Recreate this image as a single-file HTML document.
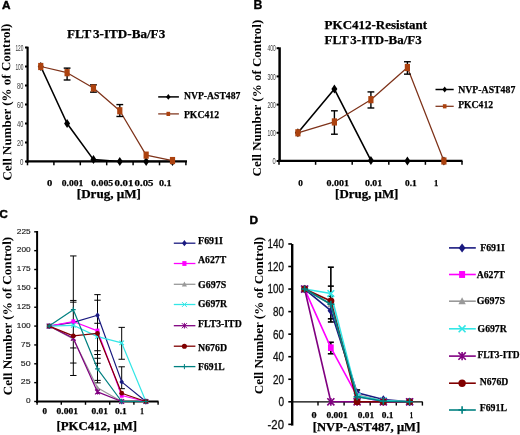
<!DOCTYPE html>
<html><head><meta charset="utf-8"><style>
html,body{margin:0;padding:0;background:#fff;overflow:hidden;}
svg{display:block;will-change:transform;}
</style></head><body>
<svg width="520" height="435" viewBox="0 0 520 435">
<rect width="520" height="435" fill="#fff"/>
<line x1="27.60" y1="46.70" x2="27.60" y2="162.60" stroke="#000" stroke-width="2.2"/>
<line x1="26.50" y1="161.40" x2="187.00" y2="161.40" stroke="#000" stroke-width="2.4"/>
<line x1="25.00" y1="161.50" x2="27.50" y2="161.50" stroke="#000" stroke-width="2.0"/>
<text x="23.40" y="164.60" font-family="'Liberation Sans', sans-serif" font-size="8.6" font-weight="normal" fill="#3a3a3a" text-anchor="end" textLength="3.40" lengthAdjust="spacingAndGlyphs" >0</text>
<line x1="25.00" y1="142.50" x2="27.50" y2="142.50" stroke="#000" stroke-width="2.0"/>
<text x="23.40" y="145.60" font-family="'Liberation Sans', sans-serif" font-size="8.6" font-weight="normal" fill="#3a3a3a" text-anchor="end" textLength="6.30" lengthAdjust="spacingAndGlyphs" >20</text>
<line x1="25.00" y1="123.50" x2="27.50" y2="123.50" stroke="#000" stroke-width="2.0"/>
<text x="23.40" y="126.60" font-family="'Liberation Sans', sans-serif" font-size="8.6" font-weight="normal" fill="#3a3a3a" text-anchor="end" textLength="6.30" lengthAdjust="spacingAndGlyphs" >40</text>
<line x1="25.00" y1="104.50" x2="27.50" y2="104.50" stroke="#000" stroke-width="2.0"/>
<text x="23.40" y="107.60" font-family="'Liberation Sans', sans-serif" font-size="8.6" font-weight="normal" fill="#3a3a3a" text-anchor="end" textLength="6.30" lengthAdjust="spacingAndGlyphs" >60</text>
<line x1="25.00" y1="85.50" x2="27.50" y2="85.50" stroke="#000" stroke-width="2.0"/>
<text x="23.40" y="88.60" font-family="'Liberation Sans', sans-serif" font-size="8.6" font-weight="normal" fill="#3a3a3a" text-anchor="end" textLength="6.30" lengthAdjust="spacingAndGlyphs" >80</text>
<line x1="25.00" y1="66.50" x2="27.50" y2="66.50" stroke="#000" stroke-width="2.0"/>
<text x="23.40" y="69.60" font-family="'Liberation Sans', sans-serif" font-size="8.6" font-weight="normal" fill="#3a3a3a" text-anchor="end" textLength="8.00" lengthAdjust="spacingAndGlyphs" >100</text>
<line x1="25.00" y1="47.50" x2="27.50" y2="47.50" stroke="#000" stroke-width="2.0"/>
<text x="23.40" y="50.60" font-family="'Liberation Sans', sans-serif" font-size="8.6" font-weight="normal" fill="#3a3a3a" text-anchor="end" textLength="8.00" lengthAdjust="spacingAndGlyphs" >120</text>
<line x1="27.50" y1="161.50" x2="27.50" y2="165.30" stroke="#000" stroke-width="1.5"/>
<line x1="53.90" y1="161.50" x2="53.90" y2="165.30" stroke="#000" stroke-width="1.5"/>
<line x1="80.30" y1="161.50" x2="80.30" y2="165.30" stroke="#000" stroke-width="1.5"/>
<line x1="106.70" y1="161.50" x2="106.70" y2="165.30" stroke="#000" stroke-width="1.5"/>
<line x1="133.10" y1="161.50" x2="133.10" y2="165.30" stroke="#000" stroke-width="1.5"/>
<line x1="159.50" y1="161.50" x2="159.50" y2="165.30" stroke="#000" stroke-width="1.5"/>
<line x1="185.90" y1="161.50" x2="185.90" y2="165.30" stroke="#000" stroke-width="1.5"/>
<text x="47.00" y="185.60" font-family="'Liberation Serif', serif" font-size="8.9" font-weight="bold" fill="#000" text-anchor="start" textLength="5.30" lengthAdjust="spacingAndGlyphs"  stroke="#000" stroke-width="0.25">0</text>
<text x="61.80" y="185.60" font-family="'Liberation Serif', serif" font-size="8.9" font-weight="bold" fill="#000" text-anchor="start" textLength="21.50" lengthAdjust="spacingAndGlyphs"  stroke="#000" stroke-width="0.25">0.001</text>
<text x="91.20" y="185.60" font-family="'Liberation Serif', serif" font-size="8.9" font-weight="bold" fill="#000" text-anchor="start" textLength="22.00" lengthAdjust="spacingAndGlyphs"  stroke="#000" stroke-width="0.25">0.005</text>
<text x="114.50" y="185.60" font-family="'Liberation Serif', serif" font-size="8.9" font-weight="bold" fill="#000" text-anchor="start" textLength="18.90" lengthAdjust="spacingAndGlyphs"  stroke="#000" stroke-width="0.25">0.01</text>
<text x="134.60" y="185.60" font-family="'Liberation Serif', serif" font-size="8.9" font-weight="bold" fill="#000" text-anchor="start" textLength="18.90" lengthAdjust="spacingAndGlyphs"  stroke="#000" stroke-width="0.25">0.05</text>
<text x="158.90" y="185.60" font-family="'Liberation Serif', serif" font-size="8.9" font-weight="bold" fill="#000" text-anchor="start" textLength="12.70" lengthAdjust="spacingAndGlyphs"  stroke="#000" stroke-width="0.25">0.1</text>
<text x="76.80" y="198.20" font-family="'Liberation Serif', serif" font-size="11.5" font-weight="bold" fill="#000" text-anchor="start" textLength="64.10" lengthAdjust="spacingAndGlyphs"  stroke="#000" stroke-width="0.25">[Drug, μM]</text>
<text transform="translate(11.60,180.60) rotate(-90.65)" x="0" y="0" font-family="'Liberation Serif', serif" font-size="12.5" font-weight="bold" fill="#000" textLength="157.00" lengthAdjust="spacingAndGlyphs">Cell Number (% of Control)</text>
<text x="67.00" y="38.20" font-family="'Liberation Serif', serif" font-size="12.0" font-weight="bold" fill="#000" text-anchor="start" textLength="98.20" lengthAdjust="spacingAndGlyphs"  stroke="#000" stroke-width="0.25">FLT<tspan dx="1.6">3</tspan>-ITD-Ba/F3</text>
<text x="2.10" y="8.60" font-family="'Liberation Sans', sans-serif" font-size="11.8" font-weight="bold" fill="#000" text-anchor="start" stroke="#000" stroke-width="0.45">A</text>
<line x1="158.20" y1="96.90" x2="178.90" y2="96.90" stroke="#000" stroke-width="1.5"/>
<path d="M168.30,93.98L170.55,96.90L168.30,99.83L166.05,96.90Z" fill="#000"/>
<text x="183.90" y="98.80" font-family="'Liberation Serif', serif" font-size="10.7" font-weight="bold" fill="#000" text-anchor="start" textLength="56.50" lengthAdjust="spacingAndGlyphs"  stroke="#000" stroke-width="0.25">NVP-AST487</text>
<line x1="158.20" y1="113.90" x2="178.90" y2="113.90" stroke="#7e3219" stroke-width="1.25"/>
<rect x="166.48" y="111.80" width="3.64" height="4.20" fill="#ac420f"/>
<text x="183.90" y="117.70" font-family="'Liberation Serif', serif" font-size="10.7" font-weight="bold" fill="#000" text-anchor="start" textLength="35.10" lengthAdjust="spacingAndGlyphs"  stroke="#000" stroke-width="0.25">PKC412</text>
<polyline points="40.75,66.50 67.10,123.50 93.45,159.60 119.80,161.50 146.15,161.50 172.50,161.50" fill="none" stroke="#000" stroke-width="1.6" stroke-linejoin="round"/>
<path d="M40.75,62.00L43.75,66.50L40.75,71.00L37.75,66.50Z" fill="#000"/>
<path d="M67.10,119.00L70.10,123.50L67.10,128.00L64.10,123.50Z" fill="#000"/>
<path d="M93.45,155.10L96.45,159.60L93.45,164.10L90.45,159.60Z" fill="#000"/>
<path d="M119.80,157.00L122.80,161.50L119.80,166.00L116.80,161.50Z" fill="#000"/>
<path d="M146.15,157.00L149.15,161.50L146.15,166.00L143.15,161.50Z" fill="#000"/>
<path d="M172.50,157.00L175.50,161.50L172.50,166.00L169.50,161.50Z" fill="#000"/>
<polyline points="40.75,66.50 67.10,72.67 93.45,88.07 119.80,110.77 146.15,155.13 172.50,160.55" fill="none" stroke="#7e3219" stroke-width="1.25" stroke-linejoin="round"/>
<rect x="38.15" y="62.90" width="5.20" height="7.20" fill="#ac420f"/>
<line x1="67.10" y1="68.12" x2="67.10" y2="79.99" stroke="#000" stroke-width="1.4"/>
<line x1="63.70" y1="68.12" x2="70.50" y2="68.12" stroke="#000" stroke-width="1.4"/>
<line x1="63.70" y1="79.99" x2="70.50" y2="79.99" stroke="#000" stroke-width="1.4"/>
<rect x="64.50" y="69.08" width="5.20" height="7.20" fill="#ac420f"/>
<line x1="93.45" y1="84.84" x2="93.45" y2="92.15" stroke="#000" stroke-width="1.4"/>
<line x1="90.05" y1="84.84" x2="96.85" y2="84.84" stroke="#000" stroke-width="1.4"/>
<line x1="90.05" y1="92.15" x2="96.85" y2="92.15" stroke="#000" stroke-width="1.4"/>
<rect x="90.85" y="84.47" width="5.20" height="7.20" fill="#ac420f"/>
<line x1="119.80" y1="104.59" x2="119.80" y2="116.47" stroke="#000" stroke-width="1.4"/>
<line x1="116.40" y1="104.59" x2="123.20" y2="104.59" stroke="#000" stroke-width="1.4"/>
<line x1="116.40" y1="116.47" x2="123.20" y2="116.47" stroke="#000" stroke-width="1.4"/>
<rect x="117.20" y="107.17" width="5.20" height="7.20" fill="#ac420f"/>
<rect x="143.55" y="151.53" width="5.20" height="7.20" fill="#ac420f"/>
<rect x="169.90" y="156.95" width="5.20" height="7.20" fill="#ac420f"/>
<line x1="279.60" y1="47.30" x2="279.60" y2="162.00" stroke="#000" stroke-width="2.5"/>
<line x1="278.00" y1="160.80" x2="462.50" y2="160.80" stroke="#000" stroke-width="2.3"/>
<line x1="276.60" y1="161.00" x2="279.00" y2="161.00" stroke="#000" stroke-width="2.0"/>
<text x="275.70" y="164.10" font-family="'Liberation Sans', sans-serif" font-size="8.6" font-weight="normal" fill="#3a3a3a" text-anchor="end" textLength="3.20" lengthAdjust="spacingAndGlyphs" >0</text>
<line x1="276.60" y1="132.80" x2="279.00" y2="132.80" stroke="#000" stroke-width="2.0"/>
<text x="275.70" y="135.90" font-family="'Liberation Sans', sans-serif" font-size="8.6" font-weight="normal" fill="#3a3a3a" text-anchor="end" textLength="8.20" lengthAdjust="spacingAndGlyphs" >100</text>
<line x1="276.60" y1="104.60" x2="279.00" y2="104.60" stroke="#000" stroke-width="2.0"/>
<text x="275.70" y="107.70" font-family="'Liberation Sans', sans-serif" font-size="8.6" font-weight="normal" fill="#3a3a3a" text-anchor="end" textLength="8.20" lengthAdjust="spacingAndGlyphs" >200</text>
<line x1="276.60" y1="76.40" x2="279.00" y2="76.40" stroke="#000" stroke-width="2.0"/>
<text x="275.70" y="79.50" font-family="'Liberation Sans', sans-serif" font-size="8.6" font-weight="normal" fill="#3a3a3a" text-anchor="end" textLength="8.20" lengthAdjust="spacingAndGlyphs" >300</text>
<line x1="276.60" y1="48.20" x2="279.00" y2="48.20" stroke="#000" stroke-width="2.0"/>
<text x="275.70" y="51.30" font-family="'Liberation Sans', sans-serif" font-size="8.6" font-weight="normal" fill="#3a3a3a" text-anchor="end" textLength="8.20" lengthAdjust="spacingAndGlyphs" >400</text>
<line x1="279.00" y1="161.00" x2="279.00" y2="164.80" stroke="#000" stroke-width="1.5"/>
<line x1="315.60" y1="161.00" x2="315.60" y2="164.80" stroke="#000" stroke-width="1.5"/>
<line x1="352.20" y1="161.00" x2="352.20" y2="164.80" stroke="#000" stroke-width="1.5"/>
<line x1="388.80" y1="161.00" x2="388.80" y2="164.80" stroke="#000" stroke-width="1.5"/>
<line x1="425.40" y1="161.00" x2="425.40" y2="164.80" stroke="#000" stroke-width="1.5"/>
<line x1="462.00" y1="161.00" x2="462.00" y2="164.80" stroke="#000" stroke-width="1.5"/>
<text x="298.20" y="185.60" font-family="'Liberation Serif', serif" font-size="8.9" font-weight="bold" fill="#000" text-anchor="start" textLength="4.60" lengthAdjust="spacingAndGlyphs"  stroke="#000" stroke-width="0.25">0</text>
<text x="326.50" y="185.60" font-family="'Liberation Serif', serif" font-size="8.9" font-weight="bold" fill="#000" text-anchor="start" textLength="22.50" lengthAdjust="spacingAndGlyphs"  stroke="#000" stroke-width="0.25">0.001</text>
<text x="365.00" y="185.60" font-family="'Liberation Serif', serif" font-size="8.9" font-weight="bold" fill="#000" text-anchor="start" textLength="17.20" lengthAdjust="spacingAndGlyphs"  stroke="#000" stroke-width="0.25">0.01</text>
<text x="405.00" y="185.60" font-family="'Liberation Serif', serif" font-size="8.9" font-weight="bold" fill="#000" text-anchor="start" textLength="11.70" lengthAdjust="spacingAndGlyphs"  stroke="#000" stroke-width="0.25">0.1</text>
<text x="433.90" y="185.60" font-family="'Liberation Serif', serif" font-size="8.9" font-weight="bold" fill="#000" text-anchor="start" textLength="4.30" lengthAdjust="spacingAndGlyphs"  stroke="#000" stroke-width="0.25">1</text>
<text x="335.10" y="198.40" font-family="'Liberation Serif', serif" font-size="11.5" font-weight="bold" fill="#000" text-anchor="start" textLength="63.30" lengthAdjust="spacingAndGlyphs"  stroke="#000" stroke-width="0.25">[Drug, μM]</text>
<text transform="translate(261.20,176.40) rotate(-90)" x="0" y="0" font-family="'Liberation Serif', serif" font-size="12.5" font-weight="bold" fill="#000" textLength="156.70" lengthAdjust="spacingAndGlyphs">Cell Number (% of Control)</text>
<text x="324.60" y="29.00" font-family="'Liberation Serif', serif" font-size="12.2" font-weight="bold" fill="#000" text-anchor="start" textLength="102.50" lengthAdjust="spacingAndGlyphs"  stroke="#000" stroke-width="0.25">PKC412-Resistant</text>
<text x="324.60" y="43.70" font-family="'Liberation Serif', serif" font-size="12.2" font-weight="bold" fill="#000" text-anchor="start" textLength="97.10" lengthAdjust="spacingAndGlyphs"  stroke="#000" stroke-width="0.25">FLT<tspan dx="1.6">3</tspan>-ITD-Ba/F3</text>
<text x="253.60" y="8.60" font-family="'Liberation Sans', sans-serif" font-size="12.3" font-weight="bold" fill="#000" text-anchor="start" stroke="#000" stroke-width="0.3">B</text>
<line x1="435.50" y1="89.50" x2="453.70" y2="89.50" stroke="#000" stroke-width="1.5"/>
<path d="M444.70,86.58L446.95,89.50L444.70,92.42L442.45,89.50Z" fill="#000"/>
<text x="458.20" y="93.40" font-family="'Liberation Serif', serif" font-size="10.7" font-weight="bold" fill="#000" text-anchor="start" textLength="57.10" lengthAdjust="spacingAndGlyphs"  stroke="#000" stroke-width="0.25">NVP-AST487</text>
<line x1="435.50" y1="106.30" x2="453.70" y2="106.30" stroke="#7e3219" stroke-width="1.25"/>
<rect x="442.88" y="104.20" width="3.64" height="4.20" fill="#ac420f"/>
<text x="458.20" y="107.60" font-family="'Liberation Serif', serif" font-size="10.7" font-weight="bold" fill="#000" text-anchor="start" textLength="34.90" lengthAdjust="spacingAndGlyphs"  stroke="#000" stroke-width="0.25">PKC412</text>
<polyline points="297.90,132.80 334.40,89.09 370.90,160.44 407.40,161.00 443.90,161.00" fill="none" stroke="#000" stroke-width="1.6" stroke-linejoin="round"/>
<path d="M297.90,128.30L300.90,132.80L297.90,137.30L294.90,132.80Z" fill="#000"/>
<path d="M334.40,84.59L337.40,89.09L334.40,93.59L331.40,89.09Z" fill="#000"/>
<path d="M370.90,155.94L373.90,160.44L370.90,164.94L367.90,160.44Z" fill="#000"/>
<path d="M407.40,156.50L410.40,161.00L407.40,165.50L404.40,161.00Z" fill="#000"/>
<path d="M443.90,156.50L446.90,161.00L443.90,165.50L440.90,161.00Z" fill="#000"/>
<polyline points="297.90,132.80 334.40,121.94 370.90,99.67 407.40,67.49 443.90,161.00" fill="none" stroke="#7e3219" stroke-width="1.25" stroke-linejoin="round"/>
<rect x="295.30" y="129.20" width="5.20" height="7.20" fill="#ac420f"/>
<line x1="334.40" y1="110.80" x2="334.40" y2="134.21" stroke="#000" stroke-width="1.4"/>
<line x1="331.00" y1="110.80" x2="337.80" y2="110.80" stroke="#000" stroke-width="1.4"/>
<line x1="331.00" y1="134.21" x2="337.80" y2="134.21" stroke="#000" stroke-width="1.4"/>
<rect x="331.80" y="118.34" width="5.20" height="7.20" fill="#ac420f"/>
<line x1="370.90" y1="91.91" x2="370.90" y2="107.98" stroke="#000" stroke-width="1.4"/>
<line x1="367.50" y1="91.91" x2="374.30" y2="91.91" stroke="#000" stroke-width="1.4"/>
<line x1="367.50" y1="107.98" x2="374.30" y2="107.98" stroke="#000" stroke-width="1.4"/>
<rect x="368.30" y="96.07" width="5.20" height="7.20" fill="#ac420f"/>
<line x1="407.40" y1="61.74" x2="407.40" y2="74.14" stroke="#000" stroke-width="1.4"/>
<line x1="404.00" y1="61.74" x2="410.80" y2="61.74" stroke="#000" stroke-width="1.4"/>
<line x1="404.00" y1="74.14" x2="410.80" y2="74.14" stroke="#000" stroke-width="1.4"/>
<rect x="404.80" y="63.89" width="5.20" height="7.20" fill="#ac420f"/>
<rect x="441.30" y="157.40" width="5.20" height="7.20" fill="#ac420f"/>
<line x1="37.10" y1="231.00" x2="37.10" y2="403.00" stroke="#000" stroke-width="2"/>
<line x1="36.10" y1="401.50" x2="158.50" y2="401.50" stroke="#000" stroke-width="2.1"/>
<line x1="34.20" y1="401.50" x2="37.10" y2="401.50" stroke="#000" stroke-width="1.4"/>
<text x="30.60" y="403.30" font-family="'Liberation Sans', sans-serif" font-size="7.0" font-weight="normal" fill="#222" text-anchor="end" textLength="4.60" lengthAdjust="spacingAndGlyphs" stroke="#222" stroke-width="0.15">0</text>
<line x1="34.20" y1="382.64" x2="37.10" y2="382.64" stroke="#000" stroke-width="1.4"/>
<text x="30.60" y="384.44" font-family="'Liberation Sans', sans-serif" font-size="7.0" font-weight="normal" fill="#222" text-anchor="end" textLength="9.80" lengthAdjust="spacingAndGlyphs" stroke="#222" stroke-width="0.15">25</text>
<line x1="34.20" y1="363.79" x2="37.10" y2="363.79" stroke="#000" stroke-width="1.4"/>
<text x="30.60" y="365.59" font-family="'Liberation Sans', sans-serif" font-size="7.0" font-weight="normal" fill="#222" text-anchor="end" textLength="9.80" lengthAdjust="spacingAndGlyphs" stroke="#222" stroke-width="0.15">50</text>
<line x1="34.20" y1="344.94" x2="37.10" y2="344.94" stroke="#000" stroke-width="1.4"/>
<text x="30.60" y="346.74" font-family="'Liberation Sans', sans-serif" font-size="7.0" font-weight="normal" fill="#222" text-anchor="end" textLength="9.80" lengthAdjust="spacingAndGlyphs" stroke="#222" stroke-width="0.15">75</text>
<line x1="34.20" y1="326.08" x2="37.10" y2="326.08" stroke="#000" stroke-width="1.4"/>
<text x="30.60" y="327.88" font-family="'Liberation Sans', sans-serif" font-size="7.0" font-weight="normal" fill="#222" text-anchor="end" textLength="13.80" lengthAdjust="spacingAndGlyphs" stroke="#222" stroke-width="0.15">100</text>
<line x1="34.20" y1="307.23" x2="37.10" y2="307.23" stroke="#000" stroke-width="1.4"/>
<text x="30.60" y="309.03" font-family="'Liberation Sans', sans-serif" font-size="7.0" font-weight="normal" fill="#222" text-anchor="end" textLength="13.80" lengthAdjust="spacingAndGlyphs" stroke="#222" stroke-width="0.15">125</text>
<line x1="34.20" y1="288.37" x2="37.10" y2="288.37" stroke="#000" stroke-width="1.4"/>
<text x="30.60" y="290.17" font-family="'Liberation Sans', sans-serif" font-size="7.0" font-weight="normal" fill="#222" text-anchor="end" textLength="13.80" lengthAdjust="spacingAndGlyphs" stroke="#222" stroke-width="0.15">150</text>
<line x1="34.20" y1="269.51" x2="37.10" y2="269.51" stroke="#000" stroke-width="1.4"/>
<text x="30.60" y="271.31" font-family="'Liberation Sans', sans-serif" font-size="7.0" font-weight="normal" fill="#222" text-anchor="end" textLength="13.80" lengthAdjust="spacingAndGlyphs" stroke="#222" stroke-width="0.15">175</text>
<line x1="34.20" y1="250.66" x2="37.10" y2="250.66" stroke="#000" stroke-width="1.4"/>
<text x="30.60" y="252.46" font-family="'Liberation Sans', sans-serif" font-size="7.0" font-weight="normal" fill="#222" text-anchor="end" textLength="13.80" lengthAdjust="spacingAndGlyphs" stroke="#222" stroke-width="0.15">200</text>
<line x1="34.20" y1="231.81" x2="37.10" y2="231.81" stroke="#000" stroke-width="1.4"/>
<text x="30.60" y="233.61" font-family="'Liberation Sans', sans-serif" font-size="7.0" font-weight="normal" fill="#222" text-anchor="end" textLength="13.80" lengthAdjust="spacingAndGlyphs" stroke="#222" stroke-width="0.15">225</text>
<line x1="37.10" y1="401.50" x2="37.10" y2="404.80" stroke="#000" stroke-width="1.4"/>
<line x1="61.30" y1="401.50" x2="61.30" y2="404.80" stroke="#000" stroke-width="1.4"/>
<line x1="85.50" y1="401.50" x2="85.50" y2="404.80" stroke="#000" stroke-width="1.4"/>
<line x1="109.70" y1="401.50" x2="109.70" y2="404.80" stroke="#000" stroke-width="1.4"/>
<line x1="133.90" y1="401.50" x2="133.90" y2="404.80" stroke="#000" stroke-width="1.4"/>
<line x1="158.10" y1="401.50" x2="158.10" y2="404.80" stroke="#000" stroke-width="1.4"/>
<text x="42.60" y="414.00" font-family="'Liberation Serif', serif" font-size="8.4" font-weight="bold" fill="#000" text-anchor="start" textLength="4.50" lengthAdjust="spacingAndGlyphs"  stroke="#000" stroke-width="0.25">0</text>
<text x="56.60" y="414.00" font-family="'Liberation Serif', serif" font-size="8.4" font-weight="bold" fill="#000" text-anchor="start" textLength="21.40" lengthAdjust="spacingAndGlyphs"  stroke="#000" stroke-width="0.25">0.001</text>
<text x="91.60" y="414.00" font-family="'Liberation Serif', serif" font-size="8.4" font-weight="bold" fill="#000" text-anchor="start" textLength="16.40" lengthAdjust="spacingAndGlyphs"  stroke="#000" stroke-width="0.25">0.01</text>
<text x="115.10" y="414.00" font-family="'Liberation Serif', serif" font-size="8.4" font-weight="bold" fill="#000" text-anchor="start" textLength="11.70" lengthAdjust="spacingAndGlyphs"  stroke="#000" stroke-width="0.25">0.1</text>
<text x="140.30" y="414.00" font-family="'Liberation Serif', serif" font-size="8.4" font-weight="bold" fill="#000" text-anchor="start" textLength="3.60" lengthAdjust="spacingAndGlyphs"  stroke="#000" stroke-width="0.25">1</text>
<text x="56.50" y="430.20" font-family="'Liberation Serif', serif" font-size="11.8" font-weight="bold" fill="#000" text-anchor="start" textLength="80.50" lengthAdjust="spacingAndGlyphs"  stroke="#000" stroke-width="0.25">[PKC412, μM]</text>
<text transform="translate(12.00,395.20) rotate(-90.35)" x="0" y="0" font-family="'Liberation Serif', serif" font-size="12.5" font-weight="bold" fill="#000" textLength="158.40" lengthAdjust="spacingAndGlyphs">Cell Number (% of Control)</text>
<text x="-0.50" y="218.00" font-family="'Liberation Sans', sans-serif" font-size="11.5" font-weight="bold" fill="#000" text-anchor="start" stroke="#000" stroke-width="0.45">C</text>
<line x1="73.30" y1="255.94" x2="73.30" y2="375.48" stroke="#000" stroke-width="1.0"/>
<line x1="70.10" y1="255.94" x2="76.50" y2="255.94" stroke="#000" stroke-width="1.0"/>
<line x1="70.10" y1="375.48" x2="76.50" y2="375.48" stroke="#000" stroke-width="1.0"/>
<line x1="70.10" y1="302.17" x2="76.50" y2="302.17" stroke="#000" stroke-width="1.0"/>
<line x1="70.10" y1="300.44" x2="76.50" y2="300.44" stroke="#000" stroke-width="1.0"/>
<line x1="70.10" y1="347.95" x2="76.50" y2="347.95" stroke="#000" stroke-width="1.0"/>
<line x1="70.10" y1="363.04" x2="76.50" y2="363.04" stroke="#000" stroke-width="1.0"/>
<line x1="97.50" y1="294.63" x2="97.50" y2="382.87" stroke="#000" stroke-width="1.0"/>
<line x1="94.30" y1="294.63" x2="100.70" y2="294.63" stroke="#000" stroke-width="1.0"/>
<line x1="94.30" y1="382.87" x2="100.70" y2="382.87" stroke="#000" stroke-width="1.0"/>
<line x1="94.30" y1="300.21" x2="100.70" y2="300.21" stroke="#000" stroke-width="1.0"/>
<line x1="94.30" y1="323.29" x2="100.70" y2="323.29" stroke="#000" stroke-width="1.0"/>
<line x1="94.30" y1="350.74" x2="100.70" y2="350.74" stroke="#000" stroke-width="1.0"/>
<line x1="94.30" y1="354.51" x2="100.70" y2="354.51" stroke="#000" stroke-width="1.0"/>
<line x1="94.30" y1="358.28" x2="100.70" y2="358.28" stroke="#000" stroke-width="1.0"/>
<line x1="94.30" y1="363.26" x2="100.70" y2="363.26" stroke="#000" stroke-width="1.0"/>
<line x1="94.30" y1="380.38" x2="100.70" y2="380.38" stroke="#000" stroke-width="1.0"/>
<line x1="121.70" y1="327.36" x2="121.70" y2="359.26" stroke="#000" stroke-width="1.0"/>
<line x1="118.50" y1="327.36" x2="124.90" y2="327.36" stroke="#000" stroke-width="1.0"/>
<line x1="118.50" y1="359.26" x2="124.90" y2="359.26" stroke="#000" stroke-width="1.0"/>
<line x1="121.70" y1="366.81" x2="121.70" y2="388.68" stroke="#000" stroke-width="1.0"/>
<line x1="118.50" y1="366.81" x2="124.90" y2="366.81" stroke="#000" stroke-width="1.0"/>
<line x1="118.50" y1="388.68" x2="124.90" y2="388.68" stroke="#000" stroke-width="1.0"/>
<polyline points="49.10,326.08 73.30,322.31 97.50,315.29 121.70,381.89 145.90,401.50" fill="none" stroke="#1a1a80" stroke-width="1.2" stroke-linejoin="round"/>
<path d="M49.10,323.15L51.35,326.08L49.10,329.00L46.85,326.08Z" fill="#1a1a80"/>
<path d="M73.30,319.38L75.55,322.31L73.30,325.23L71.05,322.31Z" fill="#1a1a80"/>
<path d="M97.50,312.37L99.75,315.29L97.50,318.22L95.25,315.29Z" fill="#1a1a80"/>
<path d="M121.70,378.97L123.95,381.89L121.70,384.82L119.45,381.89Z" fill="#1a1a80"/>
<path d="M145.90,398.57L148.15,401.50L145.90,404.43L143.65,401.50Z" fill="#1a1a80"/>
<polyline points="49.10,326.08 73.30,321.55 97.50,330.83 121.70,395.47 145.90,401.50" fill="none" stroke="#ff00ff" stroke-width="1.2" stroke-linejoin="round"/>
<rect x="47.15" y="323.83" width="3.90" height="4.50" fill="#ff00ff"/>
<rect x="71.35" y="319.30" width="3.90" height="4.50" fill="#ff00ff"/>
<rect x="95.55" y="328.58" width="3.90" height="4.50" fill="#ff00ff"/>
<rect x="119.75" y="393.22" width="3.90" height="4.50" fill="#ff00ff"/>
<rect x="143.95" y="399.25" width="3.90" height="4.50" fill="#ff00ff"/>
<polyline points="49.10,326.08 73.30,338.90 97.50,387.70 121.70,401.50 145.90,401.50" fill="none" stroke="#999999" stroke-width="1.2" stroke-linejoin="round"/>
<path d="M49.10,323.53L51.50,328.12L46.70,328.12Z" fill="#999999"/>
<path d="M73.30,336.35L75.70,340.94L70.90,340.94Z" fill="#999999"/>
<path d="M97.50,385.15L99.90,389.74L95.10,389.74Z" fill="#999999"/>
<path d="M121.70,398.95L124.10,403.54L119.30,403.54Z" fill="#999999"/>
<path d="M145.90,398.95L148.30,403.54L143.50,403.54Z" fill="#999999"/>
<polyline points="49.10,326.08 73.30,325.33 97.50,336.64 121.70,342.90 145.90,401.50" fill="none" stroke="#33e6e6" stroke-width="1.2" stroke-linejoin="round"/>
<path d="M46.85,323.83L51.35,328.33M46.85,328.33L51.35,323.83" stroke="#33e6e6" stroke-width="1.2" fill="none"/>
<path d="M71.05,323.08L75.55,327.58M71.05,327.58L75.55,323.08" stroke="#33e6e6" stroke-width="1.2" fill="none"/>
<path d="M95.25,334.39L99.75,338.89M95.25,338.89L99.75,334.39" stroke="#33e6e6" stroke-width="1.2" fill="none"/>
<path d="M119.45,340.65L123.95,345.15M119.45,345.15L123.95,340.65" stroke="#33e6e6" stroke-width="1.2" fill="none"/>
<path d="M143.65,399.25L148.15,403.75M143.65,403.75L148.15,399.25" stroke="#33e6e6" stroke-width="1.2" fill="none"/>
<polyline points="49.10,326.08 73.30,338.15 97.50,391.92 121.70,401.50 145.90,401.50" fill="none" stroke="#800080" stroke-width="1.2" stroke-linejoin="round"/>
<path d="M46.70,323.68L51.50,328.48M46.70,328.48L51.50,323.68M49.10,323.44L49.10,328.72" stroke="#800080" stroke-width="1.2" fill="none"/>
<path d="M70.90,335.75L75.70,340.55M70.90,340.55L75.70,335.75M73.30,335.51L73.30,340.79" stroke="#800080" stroke-width="1.2" fill="none"/>
<path d="M95.10,389.52L99.90,394.32M95.10,394.32L99.90,389.52M97.50,389.28L97.50,394.56" stroke="#800080" stroke-width="1.2" fill="none"/>
<path d="M119.30,399.10L124.10,403.90M119.30,403.90L124.10,399.10M121.70,398.86L121.70,404.14" stroke="#800080" stroke-width="1.2" fill="none"/>
<path d="M143.50,399.10L148.30,403.90M143.50,403.90L148.30,399.10M145.90,398.86L145.90,404.14" stroke="#800080" stroke-width="1.2" fill="none"/>
<polyline points="49.10,326.08 73.30,335.88 97.50,333.40 121.70,393.20 145.90,401.50" fill="none" stroke="#800000" stroke-width="1.2" stroke-linejoin="round"/>
<circle cx="49.10" cy="326.08" r="2.40" fill="#800000"/>
<circle cx="73.30" cy="335.88" r="2.40" fill="#800000"/>
<circle cx="97.50" cy="333.40" r="2.40" fill="#800000"/>
<circle cx="121.70" cy="393.20" r="2.40" fill="#800000"/>
<circle cx="145.90" cy="401.50" r="2.40" fill="#800000"/>
<polyline points="49.10,326.08 73.30,309.71 97.50,368.84 121.70,401.50 145.90,401.50" fill="none" stroke="#008080" stroke-width="1.2" stroke-linejoin="round"/>
<path d="M46.70,326.08L51.50,326.08M49.10,323.68L49.10,328.48" stroke="#008080" stroke-width="1.2" fill="none"/>
<path d="M70.90,309.71L75.70,309.71M73.30,307.31L73.30,312.11" stroke="#008080" stroke-width="1.2" fill="none"/>
<path d="M95.10,368.84L99.90,368.84M97.50,366.44L97.50,371.24" stroke="#008080" stroke-width="1.2" fill="none"/>
<path d="M119.30,401.50L124.10,401.50M121.70,399.10L121.70,403.90" stroke="#008080" stroke-width="1.2" fill="none"/>
<path d="M143.50,401.50L148.30,401.50M145.90,399.10L145.90,403.90" stroke="#008080" stroke-width="1.2" fill="none"/>
<line x1="173.80" y1="243.20" x2="195.40" y2="243.20" stroke="#1a1a80" stroke-width="1.3"/>
<path d="M184.40,240.08L186.80,243.20L184.40,246.32L182.00,243.20Z" fill="#1a1a80"/>
<text x="198.10" y="244.30" font-family="'Liberation Serif', serif" font-size="10.0" font-weight="bold" fill="#000" text-anchor="start" textLength="24.80" lengthAdjust="spacingAndGlyphs"  stroke="#000" stroke-width="0.25">F691I</text>
<line x1="173.80" y1="263.50" x2="195.40" y2="263.50" stroke="#ff00ff" stroke-width="1.3"/>
<rect x="182.32" y="261.10" width="4.16" height="4.80" fill="#ff00ff"/>
<text x="198.10" y="263.10" font-family="'Liberation Serif', serif" font-size="10.0" font-weight="bold" fill="#000" text-anchor="start" textLength="28.10" lengthAdjust="spacingAndGlyphs"  stroke="#000" stroke-width="0.25">A627T</text>
<line x1="173.80" y1="284.30" x2="195.40" y2="284.30" stroke="#999999" stroke-width="1.3"/>
<path d="M184.40,281.58L186.96,286.48L181.84,286.48Z" fill="#999999"/>
<text x="198.10" y="287.90" font-family="'Liberation Serif', serif" font-size="10.0" font-weight="bold" fill="#000" text-anchor="start" textLength="28.10" lengthAdjust="spacingAndGlyphs"  stroke="#000" stroke-width="0.25">G697S</text>
<line x1="173.80" y1="304.50" x2="195.40" y2="304.50" stroke="#33e6e6" stroke-width="1.3"/>
<path d="M182.00,302.10L186.80,306.90M182.00,306.90L186.80,302.10" stroke="#33e6e6" stroke-width="1.0" fill="none"/>
<text x="198.10" y="307.20" font-family="'Liberation Serif', serif" font-size="10.0" font-weight="bold" fill="#000" text-anchor="start" textLength="29.00" lengthAdjust="spacingAndGlyphs"  stroke="#000" stroke-width="0.25">G697R</text>
<line x1="173.80" y1="325.70" x2="195.40" y2="325.70" stroke="#800080" stroke-width="1.3"/>
<path d="M181.84,323.14L186.96,328.26M181.84,328.26L186.96,323.14M184.40,322.88L184.40,328.52" stroke="#800080" stroke-width="1.0" fill="none"/>
<text x="198.10" y="326.60" font-family="'Liberation Serif', serif" font-size="10.0" font-weight="bold" fill="#000" text-anchor="start" textLength="43.60" lengthAdjust="spacingAndGlyphs"  stroke="#000" stroke-width="0.25">FLT3-ITD</text>
<line x1="173.80" y1="346.20" x2="195.40" y2="346.20" stroke="#800000" stroke-width="1.3"/>
<circle cx="184.40" cy="346.20" r="2.56" fill="#800000"/>
<text x="198.10" y="350.80" font-family="'Liberation Serif', serif" font-size="10.0" font-weight="bold" fill="#000" text-anchor="start" textLength="28.90" lengthAdjust="spacingAndGlyphs"  stroke="#000" stroke-width="0.25">N676D</text>
<line x1="173.80" y1="366.60" x2="195.40" y2="366.60" stroke="#008080" stroke-width="1.3"/>
<path d="M181.84,366.60L186.96,366.60M184.40,364.04L184.40,369.16" stroke="#008080" stroke-width="1.0" fill="none"/>
<text x="198.10" y="370.00" font-family="'Liberation Serif', serif" font-size="10.0" font-weight="bold" fill="#000" text-anchor="start" textLength="26.60" lengthAdjust="spacingAndGlyphs"  stroke="#000" stroke-width="0.25">F691L</text>
<line x1="292.20" y1="244.00" x2="292.20" y2="425.60" stroke="#000" stroke-width="2.4"/>
<line x1="291.00" y1="401.80" x2="422.60" y2="401.80" stroke="#000" stroke-width="1.3"/>
<line x1="288.30" y1="424.35" x2="291.90" y2="424.35" stroke="#000" stroke-width="1.6"/>
<text x="284.00" y="428.75" font-family="'Liberation Sans', sans-serif" font-size="12.2" font-weight="normal" fill="#111" text-anchor="end" textLength="16.40" lengthAdjust="spacingAndGlyphs" stroke="#111" stroke-width="0.3">-20</text>
<line x1="288.30" y1="401.80" x2="291.90" y2="401.80" stroke="#000" stroke-width="1.6"/>
<text x="284.00" y="406.20" font-family="'Liberation Sans', sans-serif" font-size="12.2" font-weight="normal" fill="#111" text-anchor="end" textLength="5.60" lengthAdjust="spacingAndGlyphs" stroke="#111" stroke-width="0.3">0</text>
<line x1="288.30" y1="379.25" x2="291.90" y2="379.25" stroke="#000" stroke-width="1.6"/>
<text x="284.00" y="383.65" font-family="'Liberation Sans', sans-serif" font-size="12.2" font-weight="normal" fill="#111" text-anchor="end" textLength="11.00" lengthAdjust="spacingAndGlyphs" stroke="#111" stroke-width="0.3">20</text>
<line x1="288.30" y1="356.70" x2="291.90" y2="356.70" stroke="#000" stroke-width="1.6"/>
<text x="284.00" y="361.10" font-family="'Liberation Sans', sans-serif" font-size="12.2" font-weight="normal" fill="#111" text-anchor="end" textLength="11.00" lengthAdjust="spacingAndGlyphs" stroke="#111" stroke-width="0.3">40</text>
<line x1="288.30" y1="334.15" x2="291.90" y2="334.15" stroke="#000" stroke-width="1.6"/>
<text x="284.00" y="338.55" font-family="'Liberation Sans', sans-serif" font-size="12.2" font-weight="normal" fill="#111" text-anchor="end" textLength="11.00" lengthAdjust="spacingAndGlyphs" stroke="#111" stroke-width="0.3">60</text>
<line x1="288.30" y1="311.60" x2="291.90" y2="311.60" stroke="#000" stroke-width="1.6"/>
<text x="284.00" y="316.00" font-family="'Liberation Sans', sans-serif" font-size="12.2" font-weight="normal" fill="#111" text-anchor="end" textLength="11.00" lengthAdjust="spacingAndGlyphs" stroke="#111" stroke-width="0.3">80</text>
<line x1="288.30" y1="289.05" x2="291.90" y2="289.05" stroke="#000" stroke-width="1.6"/>
<text x="284.00" y="293.45" font-family="'Liberation Sans', sans-serif" font-size="12.2" font-weight="normal" fill="#111" text-anchor="end" textLength="16.40" lengthAdjust="spacingAndGlyphs" stroke="#111" stroke-width="0.3">100</text>
<line x1="288.30" y1="266.50" x2="291.90" y2="266.50" stroke="#000" stroke-width="1.6"/>
<text x="284.00" y="270.90" font-family="'Liberation Sans', sans-serif" font-size="12.2" font-weight="normal" fill="#111" text-anchor="end" textLength="16.40" lengthAdjust="spacingAndGlyphs" stroke="#111" stroke-width="0.3">120</text>
<line x1="288.30" y1="243.95" x2="291.90" y2="243.95" stroke="#000" stroke-width="1.6"/>
<text x="284.00" y="248.35" font-family="'Liberation Sans', sans-serif" font-size="12.2" font-weight="normal" fill="#111" text-anchor="end" textLength="16.40" lengthAdjust="spacingAndGlyphs" stroke="#111" stroke-width="0.3">140</text>
<line x1="318.00" y1="401.80" x2="318.00" y2="405.60" stroke="#000" stroke-width="1.4"/>
<line x1="344.10" y1="401.80" x2="344.10" y2="405.60" stroke="#000" stroke-width="1.4"/>
<line x1="370.20" y1="401.80" x2="370.20" y2="405.60" stroke="#000" stroke-width="1.4"/>
<line x1="396.30" y1="401.80" x2="396.30" y2="405.60" stroke="#000" stroke-width="1.4"/>
<line x1="422.40" y1="401.80" x2="422.40" y2="405.60" stroke="#000" stroke-width="1.4"/>
<text x="311.60" y="418.20" font-family="'Liberation Serif', serif" font-size="8.6" font-weight="bold" fill="#000" text-anchor="start" textLength="5.10" lengthAdjust="spacingAndGlyphs"  stroke="#000" stroke-width="0.25">0</text>
<text x="326.50" y="418.20" font-family="'Liberation Serif', serif" font-size="8.6" font-weight="bold" fill="#000" text-anchor="start" textLength="21.30" lengthAdjust="spacingAndGlyphs"  stroke="#000" stroke-width="0.25">0.001</text>
<text x="357.80" y="418.20" font-family="'Liberation Serif', serif" font-size="8.6" font-weight="bold" fill="#000" text-anchor="start" textLength="16.30" lengthAdjust="spacingAndGlyphs"  stroke="#000" stroke-width="0.25">0.01</text>
<text x="381.80" y="418.20" font-family="'Liberation Serif', serif" font-size="8.6" font-weight="bold" fill="#000" text-anchor="start" textLength="11.70" lengthAdjust="spacingAndGlyphs"  stroke="#000" stroke-width="0.25">0.1</text>
<text x="409.80" y="418.20" font-family="'Liberation Serif', serif" font-size="8.6" font-weight="bold" fill="#000" text-anchor="start" textLength="3.30" lengthAdjust="spacingAndGlyphs"  stroke="#000" stroke-width="0.25">1</text>
<text x="312.80" y="431.30" font-family="'Liberation Serif', serif" font-size="11.8" font-weight="bold" fill="#000" text-anchor="start" textLength="107.40" lengthAdjust="spacingAndGlyphs"  stroke="#000" stroke-width="0.25">[NVP-AST487, μM]</text>
<text transform="translate(263.20,394.20) rotate(-90)" x="0" y="0" font-family="'Liberation Serif', serif" font-size="12.5" font-weight="bold" fill="#000" textLength="157.40" lengthAdjust="spacingAndGlyphs">Cell Number (% of Control)</text>
<text x="249.50" y="223.50" font-family="'Liberation Sans', sans-serif" font-size="11.8" font-weight="bold" fill="#000" text-anchor="start" stroke="#000" stroke-width="0.45">D</text>
<line x1="330.85" y1="267.18" x2="330.85" y2="321.97" stroke="#000" stroke-width="1.6"/>
<line x1="327.85" y1="267.18" x2="333.85" y2="267.18" stroke="#000" stroke-width="1.6"/>
<line x1="327.85" y1="321.97" x2="333.85" y2="321.97" stroke="#000" stroke-width="1.6"/>
<line x1="327.85" y1="286.12" x2="333.85" y2="286.12" stroke="#000" stroke-width="1.6"/>
<line x1="327.85" y1="296.15" x2="333.85" y2="296.15" stroke="#000" stroke-width="1.6"/>
<line x1="327.85" y1="318.82" x2="333.85" y2="318.82" stroke="#000" stroke-width="1.6"/>
<line x1="330.85" y1="342.27" x2="330.85" y2="353.77" stroke="#000" stroke-width="1.6"/>
<line x1="327.85" y1="342.27" x2="333.85" y2="342.27" stroke="#000" stroke-width="1.6"/>
<line x1="327.85" y1="353.77" x2="333.85" y2="353.77" stroke="#000" stroke-width="1.6"/>
<line x1="357.10" y1="389.96" x2="357.10" y2="398.42" stroke="#000" stroke-width="1.6"/>
<line x1="354.10" y1="389.96" x2="360.10" y2="389.96" stroke="#000" stroke-width="1.6"/>
<line x1="354.10" y1="398.42" x2="360.10" y2="398.42" stroke="#000" stroke-width="1.6"/>
<polyline points="304.60,289.05 330.85,310.70 357.10,392.78 383.35,399.55 409.60,401.80" fill="none" stroke="#1a1a80" stroke-width="1.6" stroke-linejoin="round"/>
<path d="M304.60,284.76L307.90,289.05L304.60,293.34L301.30,289.05Z" fill="#1a1a80"/>
<path d="M330.85,306.41L334.15,310.70L330.85,314.99L327.55,310.70Z" fill="#1a1a80"/>
<path d="M357.10,388.49L360.40,392.78L357.10,397.07L353.80,392.78Z" fill="#1a1a80"/>
<path d="M383.35,395.25L386.65,399.55L383.35,403.84L380.05,399.55Z" fill="#1a1a80"/>
<path d="M409.60,397.51L412.90,401.80L409.60,406.09L406.30,401.80Z" fill="#1a1a80"/>
<polyline points="304.60,289.05 330.85,347.68 357.10,396.16 383.35,401.80 409.60,401.80" fill="none" stroke="#ff00ff" stroke-width="1.6" stroke-linejoin="round"/>
<rect x="301.74" y="285.75" width="5.72" height="6.60" fill="#ff00ff"/>
<rect x="327.99" y="344.38" width="5.72" height="6.60" fill="#ff00ff"/>
<rect x="354.24" y="392.86" width="5.72" height="6.60" fill="#ff00ff"/>
<rect x="380.49" y="398.50" width="5.72" height="6.60" fill="#ff00ff"/>
<rect x="406.74" y="398.50" width="5.72" height="6.60" fill="#ff00ff"/>
<polyline points="304.60,289.05 330.85,304.27 357.10,395.04 383.35,400.67 409.60,401.80" fill="none" stroke="#999999" stroke-width="1.6" stroke-linejoin="round"/>
<path d="M304.60,285.31L308.12,292.04L301.08,292.04Z" fill="#999999"/>
<path d="M330.85,300.53L334.37,307.26L327.33,307.26Z" fill="#999999"/>
<path d="M357.10,391.30L360.62,398.03L353.58,398.03Z" fill="#999999"/>
<path d="M383.35,396.93L386.87,403.66L379.83,403.66Z" fill="#999999"/>
<path d="M409.60,398.06L413.12,404.79L406.08,404.79Z" fill="#999999"/>
<polyline points="304.60,289.05 330.85,293.56 357.10,396.16 383.35,400.67 409.60,401.80" fill="none" stroke="#33e6e6" stroke-width="1.6" stroke-linejoin="round"/>
<path d="M301.30,285.75L307.90,292.35M301.30,292.35L307.90,285.75" stroke="#33e6e6" stroke-width="1.6" fill="none"/>
<path d="M327.55,290.26L334.15,296.86M327.55,296.86L334.15,290.26" stroke="#33e6e6" stroke-width="1.6" fill="none"/>
<path d="M353.80,392.86L360.40,399.46M353.80,399.46L360.40,392.86" stroke="#33e6e6" stroke-width="1.6" fill="none"/>
<path d="M380.05,397.37L386.65,403.97M380.05,403.97L386.65,397.37" stroke="#33e6e6" stroke-width="1.6" fill="none"/>
<path d="M406.30,398.50L412.90,405.10M406.30,405.10L412.90,398.50" stroke="#33e6e6" stroke-width="1.6" fill="none"/>
<polyline points="304.60,289.05 330.85,401.80 357.10,401.80 383.35,401.80 409.60,401.80" fill="none" stroke="#800080" stroke-width="1.6" stroke-linejoin="round"/>
<path d="M301.08,285.53L308.12,292.57M301.08,292.57L308.12,285.53M304.60,285.18L304.60,292.92" stroke="#800080" stroke-width="1.6" fill="none"/>
<path d="M327.33,398.28L334.37,405.32M327.33,405.32L334.37,398.28M330.85,397.93L330.85,405.67" stroke="#800080" stroke-width="1.6" fill="none"/>
<path d="M353.58,398.28L360.62,405.32M353.58,405.32L360.62,398.28M357.10,397.93L357.10,405.67" stroke="#800080" stroke-width="1.6" fill="none"/>
<path d="M379.83,398.28L386.87,405.32M379.83,405.32L386.87,398.28M383.35,397.93L383.35,405.67" stroke="#800080" stroke-width="1.6" fill="none"/>
<path d="M406.08,398.28L413.12,405.32M406.08,405.32L413.12,398.28M409.60,397.93L409.60,405.67" stroke="#800080" stroke-width="1.6" fill="none"/>
<polyline points="304.60,289.05 330.85,301.00 357.10,401.80 383.35,401.80 409.60,401.80" fill="none" stroke="#800000" stroke-width="1.6" stroke-linejoin="round"/>
<circle cx="304.60" cy="289.05" r="3.52" fill="#800000"/>
<circle cx="330.85" cy="301.00" r="3.52" fill="#800000"/>
<circle cx="357.10" cy="401.80" r="3.52" fill="#800000"/>
<circle cx="383.35" cy="401.80" r="3.52" fill="#800000"/>
<circle cx="409.60" cy="401.80" r="3.52" fill="#800000"/>
<polyline points="304.60,289.05 330.85,304.27 357.10,396.73 383.35,401.24 409.60,401.80" fill="none" stroke="#008080" stroke-width="1.6" stroke-linejoin="round"/>
<path d="M301.08,289.05L308.12,289.05M304.60,285.53L304.60,292.57" stroke="#008080" stroke-width="1.6" fill="none"/>
<path d="M327.33,304.27L334.37,304.27M330.85,300.75L330.85,307.79" stroke="#008080" stroke-width="1.6" fill="none"/>
<path d="M353.58,396.73L360.62,396.73M357.10,393.21L357.10,400.25" stroke="#008080" stroke-width="1.6" fill="none"/>
<path d="M379.83,401.24L386.87,401.24M383.35,397.72L383.35,404.76" stroke="#008080" stroke-width="1.6" fill="none"/>
<path d="M406.08,401.80L413.12,401.80M409.60,398.28L409.60,405.32" stroke="#008080" stroke-width="1.6" fill="none"/>
<line x1="449.00" y1="247.90" x2="475.80" y2="247.90" stroke="#1a1a80" stroke-width="1.6"/>
<path d="M462.10,243.42L465.55,247.90L462.10,252.38L458.65,247.90Z" fill="#1a1a80"/>
<text x="480.20" y="250.90" font-family="'Liberation Serif', serif" font-size="10.5" font-weight="bold" fill="#000" text-anchor="start" textLength="24.60" lengthAdjust="spacingAndGlyphs"  stroke="#000" stroke-width="0.25">F691I</text>
<line x1="449.00" y1="274.50" x2="475.80" y2="274.50" stroke="#ff00ff" stroke-width="1.6"/>
<rect x="459.11" y="271.05" width="5.98" height="6.90" fill="#ff00ff"/>
<text x="476.70" y="277.70" font-family="'Liberation Serif', serif" font-size="10.5" font-weight="bold" fill="#000" text-anchor="start" textLength="28.10" lengthAdjust="spacingAndGlyphs"  stroke="#000" stroke-width="0.25">A627T</text>
<line x1="449.00" y1="301.20" x2="475.80" y2="301.20" stroke="#999999" stroke-width="1.6"/>
<path d="M462.10,297.29L465.78,304.33L458.42,304.33Z" fill="#999999"/>
<text x="476.70" y="304.40" font-family="'Liberation Serif', serif" font-size="10.5" font-weight="bold" fill="#000" text-anchor="start" textLength="28.30" lengthAdjust="spacingAndGlyphs"  stroke="#000" stroke-width="0.25">G697S</text>
<line x1="449.00" y1="328.80" x2="475.80" y2="328.80" stroke="#33e6e6" stroke-width="1.6"/>
<path d="M458.65,325.35L465.55,332.25M458.65,332.25L465.55,325.35" stroke="#33e6e6" stroke-width="1.6" fill="none"/>
<text x="477.60" y="332.00" font-family="'Liberation Serif', serif" font-size="10.5" font-weight="bold" fill="#000" text-anchor="start" textLength="29.10" lengthAdjust="spacingAndGlyphs"  stroke="#000" stroke-width="0.25">G697R</text>
<line x1="449.00" y1="356.10" x2="475.80" y2="356.10" stroke="#800080" stroke-width="1.6"/>
<path d="M458.42,352.42L465.78,359.78M458.42,359.78L465.78,352.42M462.10,352.05L462.10,360.15" stroke="#800080" stroke-width="1.6" fill="none"/>
<text x="477.40" y="357.60" font-family="'Liberation Serif', serif" font-size="10.5" font-weight="bold" fill="#000" text-anchor="start" textLength="42.10" lengthAdjust="spacingAndGlyphs"  stroke="#000" stroke-width="0.25">FLT3-ITD</text>
<line x1="449.00" y1="383.20" x2="475.80" y2="383.20" stroke="#800000" stroke-width="1.6"/>
<circle cx="462.10" cy="383.20" r="3.68" fill="#800000"/>
<text x="479.70" y="384.70" font-family="'Liberation Serif', serif" font-size="10.5" font-weight="bold" fill="#000" text-anchor="start" textLength="28.70" lengthAdjust="spacingAndGlyphs"  stroke="#000" stroke-width="0.25">N676D</text>
<line x1="449.00" y1="410.00" x2="475.80" y2="410.00" stroke="#008080" stroke-width="1.6"/>
<path d="M458.42,410.00L465.78,410.00M462.10,406.32L462.10,413.68" stroke="#008080" stroke-width="1.6" fill="none"/>
<text x="479.70" y="410.90" font-family="'Liberation Serif', serif" font-size="10.5" font-weight="bold" fill="#000" text-anchor="start" textLength="27.30" lengthAdjust="spacingAndGlyphs"  stroke="#000" stroke-width="0.25">F691L</text>
</svg></body></html>
